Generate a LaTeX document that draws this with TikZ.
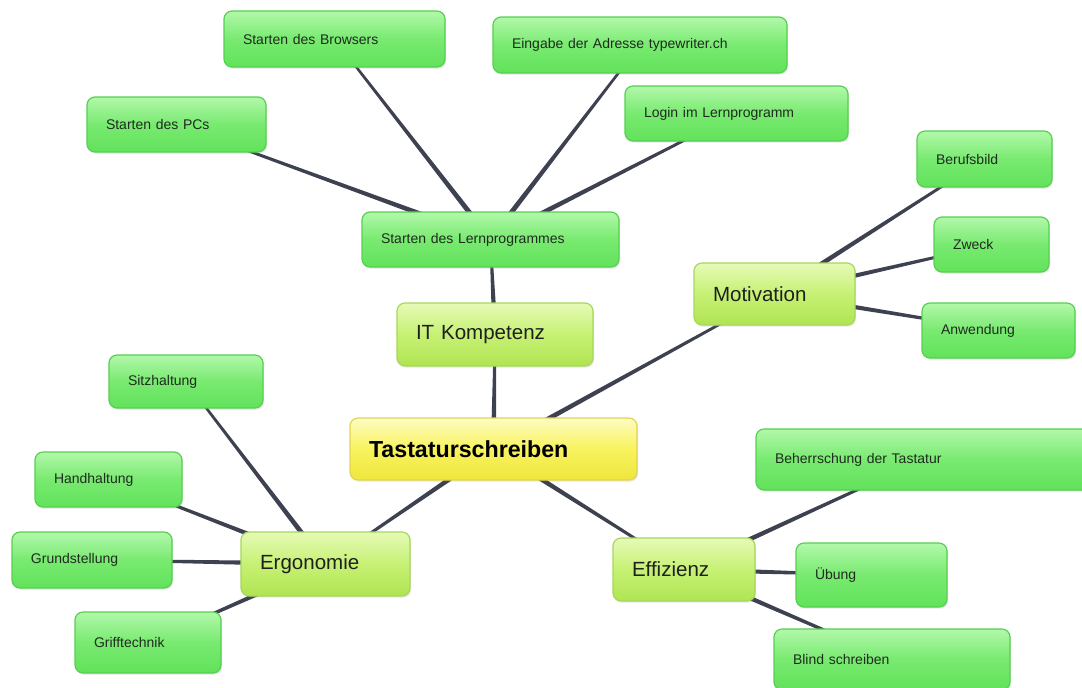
\documentclass[tikz,border=0pt]{standalone}
\usepackage{fontspec}
\setmainfont{Liberation Sans}
\usetikzlibrary{calc,shadows}
\pgfdeclarelayer{background}
\pgfsetlayers{background,main}
\definecolor{gTop}{HTML}{B2F8AA}
\definecolor{gMid}{HTML}{78EA70}
\definecolor{gBot}{HTML}{62E25B}
\definecolor{gBord}{HTML}{55D050}
\definecolor{lTop}{HTML}{E6FAB6}
\definecolor{lMid}{HTML}{C6F174}
\definecolor{lBot}{HTML}{B0E452}
\definecolor{lBord}{HTML}{A6D85C}
\definecolor{yTop}{HTML}{FDFCC2}
\definecolor{yMid}{HTML}{F8F35E}
\definecolor{yBot}{HTML}{EFE63C}
\definecolor{yBord}{HTML}{E2D452}
\definecolor{connCol}{HTML}{3D4150}
\definecolor{leafText}{HTML}{1F2B1F}
\tikzset{
  base/.style={draw, line width=0.9pt, rounded corners=6pt, inner xsep=14.25pt,
    inner ysep=0pt, align=left,
    drop shadow={opacity=0.18, shadow xshift=0.8pt, shadow yshift=-1.2pt}},
  leaf/.style={base, draw=gBord, top color=gTop, bottom color=gBot, middle color=gMid,
    font=\fontsize{10.5}{12}\selectfont, text=leafText},
  branch/.style={base, draw=lBord, top color=lTop, bottom color=lBot, middle color=lMid,
    font=\fontsize{15.4}{18}\selectfont, text=black!88},
  root/.style={base, draw=yBord, top color=yTop, bottom color=yBot, middle color=yMid,
    font=\bfseries\fontsize{17.4}{20}\selectfont, text=black},
  conn/.style={fill=connCol}
}
\newcommand\mmnode[7]{%
  \pgfmathsetmacro\mmw{(#5-#3-38)*0.75}%
  \pgfmathsetmacro\mmh{(#6-#4)*0.75}%
  \node[#1, text width=\mmw pt, minimum height=\mmh pt] (#2) at ({(#3+#5)/2},{(#4+#6)/2}) {#7};}
\newcommand\taper[2]{%
  \fill[conn] ($(#1.center)!2pt!90:(#2.center)$) -- ($(#2.center)!0.8pt!-90:(#1.center)$)
    -- ($(#2.center)!0.8pt!90:(#1.center)$) -- ($(#1.center)!2pt!-90:(#2.center)$) -- cycle;}
\begin{document}
\begin{tikzpicture}[x=0.75pt,y=-0.75pt]
\useasboundingbox (0,0) rectangle (1082,687);

\mmnode{root}{tast}{350}{418}{637}{480}{Tastaturschreiben}
\mmnode{branch}{it}{397}{303}{593}{366}{IT Kompetenz}
\mmnode{leaf}{lern}{362}{212}{619}{267}{Starten des Lernprogrammes}
\mmnode{leaf}{pcs}{87}{97}{266}{152}{Starten des PCs}
\mmnode{leaf}{browser}{224}{11}{445}{67}{Starten des Browsers}
\mmnode{leaf}{adresse}{493}{17}{787}{73}{Eingabe der Adresse typewriter.ch}
\mmnode{leaf}{login}{625}{86}{848}{141}{Login im Lernprogramm}
\mmnode{branch}{moti}{694}{263}{855}{325}{Motivation}
\mmnode{leaf}{beruf}{917}{131}{1052}{187}{Berufsbild}
\mmnode{leaf}{zweck}{934}{217}{1049}{272}{Zweck}
\mmnode{leaf}{anw}{922}{303}{1075}{358}{Anwendung}
\mmnode{leaf}{sitz}{109}{355}{263}{408}{Sitzhaltung}
\mmnode{leaf}{hand}{35}{452}{182}{507}{Handhaltung}
\mmnode{leaf}{grund}{12}{532}{172}{588}{Grundstellung}
\mmnode{leaf}{griff}{75}{612}{221}{673}{Grifftechnik}
\mmnode{branch}{ergo}{241}{532}{410}{596}{Ergonomie}
\mmnode{branch}{effi}{613}{538}{755}{601}{Effizienz}
\mmnode{leaf}{beh}{756}{429}{1090}{490}{Beherrschung der Tastatur}
\mmnode{leaf}{uebung}{796}{543}{947}{607}{Übung}
\mmnode{leaf}{blind}{774}{629}{1010}{690}{Blind schreiben}

\begin{pgfonlayer}{background}
\fill[white] (0,0) rectangle (1082,687);
\taper{tast}{it}
\taper{it}{lern}
\taper{lern}{pcs}
\taper{lern}{browser}
\taper{lern}{adresse}
\taper{lern}{login}
\taper{tast}{moti}
\taper{moti}{beruf}
\taper{moti}{zweck}
\taper{moti}{anw}
\taper{tast}{ergo}
\taper{ergo}{sitz}
\taper{ergo}{hand}
\taper{ergo}{grund}
\taper{ergo}{griff}
\taper{tast}{effi}
\taper{effi}{beh}
\taper{effi}{uebung}
\taper{effi}{blind}
\end{pgfonlayer}
\end{tikzpicture}
\end{document}
